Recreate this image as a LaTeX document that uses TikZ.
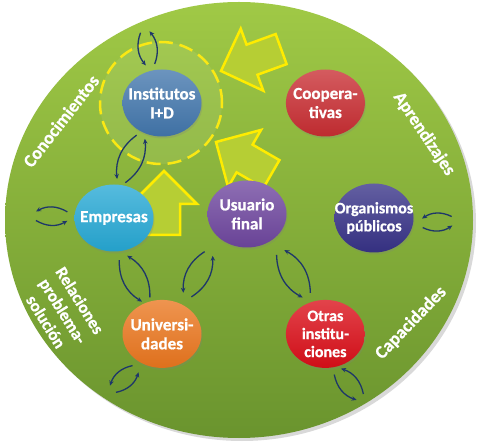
\documentclass[tikz,border=0pt]{standalone}
\usepackage{fontspec}
\setmainfont{Carlito}[BoldFont={Carlito Bold}, BoldFeatures={FakeBold=0.8}]
\usetikzlibrary{positioning,shapes.geometric,shadows,arrows.meta,calc}

\definecolor{greentop}{RGB}{160,201,70}
\definecolor{greenbottom}{RGB}{106,148,46}
\definecolor{ringyellow}{RGB}{250,232,20}
\definecolor{arrowyellow}{RGB}{255,236,0}
\definecolor{arrowfill}{RGB}{182,206,52}
\definecolor{loopblue}{RGB}{30,55,105}
\definecolor{instblue}{RGB}{66,118,172}
\definecolor{coopred}{RGB}{200,45,50}
\definecolor{empcyan}{RGB}{38,168,212}
\definecolor{usupurple}{RGB}{110,70,158}
\definecolor{orgindigo}{RGB}{55,50,135}
\definecolor{uniorange}{RGB}{234,118,30}
\definecolor{otrasred}{RGB}{218,14,24}

\tikzset{
	fatarrow/.pic={
		\path[fatline] (0,0) -- (-33,33) -- (-33,16) -- (-64,16)
			-- (-64,-16) -- (-33,-16) -- (-33,-33) -- cycle;
	}
}
% two curved arrows, one each way, between #1 and #2
\newcommand{\twoway}[2]{
	\draw[cycarrow] ($(#1)!4.5pt!-90:(#2)$) to ($(#2)!4.5pt!90:(#1)$);
	\draw[cycarrow] ($(#2)!4.5pt!-90:(#1)$) to ($(#1)!4.5pt!90:(#2)$);
}

\begin{document}
\begin{tikzpicture}[x=1pt, y=1pt,
	every node/.style={text=white,
						align=center,
						inner sep=0pt,
						font=\bfseries\fontsize{17}{19}\selectfont
						},
	blob/.style={ellipse,
				 inner sep=-14pt,
				 minimum width=79pt, minimum height=67pt,
				 top color=#1!78!white, bottom color=#1!95!black,
				 drop shadow={opacity=0.25, shadow xshift=1pt, shadow yshift=-2pt}
	},
	ringtext/.style={font=\bfseries\fontsize{18}{20}\selectfont},
	fatline/.style={draw=arrowyellow, fill=arrowfill, line width=2.5pt, line join=miter},
	cycarrow/.style={draw=loopblue, line width=1.3pt,
					 -{Stealth[length=5pt, width=4.5pt]}, bend right=30}
]
	\useasboundingbox (0,0) rectangle (477,445);
	\node (disc) [ellipse, minimum width=468pt, minimum height=436pt,
		top color=greentop, bottom color=greenbottom,
		drop shadow={opacity=0.3, shadow xshift=3pt, shadow yshift=-3pt}] at (239,225) {};
	\node (ring) [circle, minimum size=122pt, draw=ringyellow, line width=2.5pt,
		dash pattern=on 14pt off 7pt, fill=white, fill opacity=0.07] at (161,342) {};

	% big arrows towards Institutos I+D
	\pic[rotate=200] at (221,374) {fatarrow};
	\pic[rotate=150] at (216,303) {fatarrow};
	\pic[rotate=90] at (164,274) {fatarrow};

	\node (inst) [blob=instblue] at (162,342) {Institutos\\I+D};
	\node (coop) [blob=coopred, right=84pt of inst] {Coopera-\\tivas};
	\node (emp) [blob=empcyan] at (114,227) {Empresas};
	\node (usu) [blob=usupurple] at (247,231) {Usuario\\final};
	\node (org) [blob=orgindigo, minimum height=69pt,
		font=\bfseries\fontsize{16}{18}\selectfont] at (374,227) {Organismos\\públicos};
	\node (uni) [blob=uniorange, minimum height=68pt, below=163pt of inst] {Universi-\\dades};
	\node (otras) [blob=otrasred, minimum height=68pt, right=84pt of uni,
		font=\bfseries\fontsize{16}{18}\selectfont] {Otras\\institu-\\ciones};

	\node (know) [ringtext, rotate=52] at (61,324) {Conocimientos};
	\node (learn) [ringtext, rotate=-56] at (424,311) {Aprendizajes};
	\node (skills) [ringtext, rotate=46] at (411,122) {Capacidades};
	\node (links) [ringtext, rotate=-58, font=\bfseries\fontsize{17}{20}\selectfont]
		at (63,134) {Relaciones\\problema-\\solución};

	% ends of the small loops
	\coordinate (instloop) at (145,413);
	\coordinate (emploop) at (36,229);
	\coordinate (uniloop) at (113,56);
	\coordinate (orgloop) at (452,224);
	\coordinate (otrasloop) at (360,48);
	\coordinate (inst-n) at ([shift={(107:6pt)}]inst.107);
	\coordinate (inst-s) at ([shift={(238:5pt)}]inst.238);
	\coordinate (emp-w) at ([shift={(178:7pt)}]emp.178);
	\coordinate (emp-n) at ([shift={(79:4pt)}]emp.79);
	\coordinate (emp-s) at ([shift={(283:7pt)}]emp.283);
	\coordinate (usu-sw) at ([shift={(226:19pt)}]usu.226);
	\coordinate (usu-se) at ([shift={(311:15pt)}]usu.311);
	\coordinate (org-e) at ([shift={(354:9pt)}]org.354);
	\coordinate (uni-n) at ([shift={(115:3pt)}]uni.115);
	\coordinate (uni-ne) at ([shift={(57:11pt)}]uni.57);
	\coordinate (uni-sw) at ([shift={(233:8pt)}]uni.233);
	\coordinate (otras-n) at ([shift={(116:8pt)}]otras.116);
	\coordinate (otras-s) at ([shift={(288:5pt)}]otras.288);

	\twoway{instloop}{inst-n}
	\twoway{inst-s}{emp-n}
	\twoway{emp-w}{emploop}
	\twoway{emp-s}{uni-n}
	\twoway{usu-sw}{uni-ne}
	\twoway{usu-se}{otras-n}
	\twoway{uni-sw}{uniloop}
	\twoway{org-e}{orgloop}
	\twoway{otras-s}{otrasloop}
\end{tikzpicture}
\end{document}
